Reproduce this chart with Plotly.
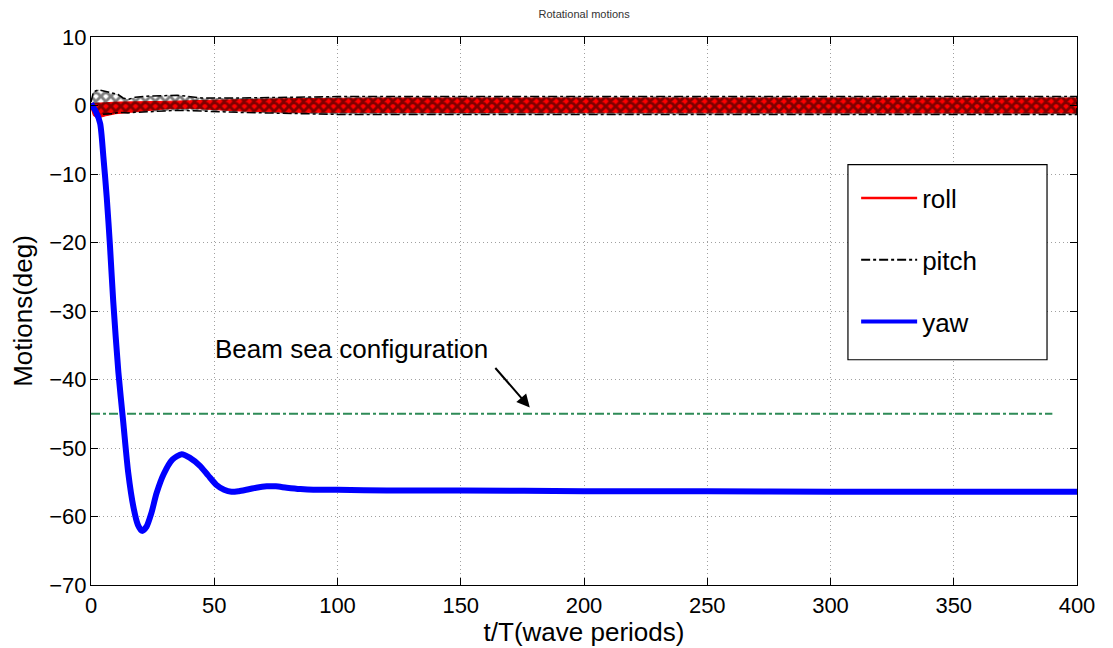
import plotly.graph_objects as go

# ---- data ----
yaw_t = [0, 0.3, 2.0, 3.7, 5.0, 6.4, 7.7, 9.0, 11.1, 13.1, 15.1, 17.2, 19.0, 20.7,
         22.5, 24.5, 26.6, 29.5, 33.0, 36.8, 40.0, 44.2, 47.5, 50.9, 54.0, 57.0,
         60.0, 63.0, 67.0, 71.3, 75.0, 79.4, 85.0, 90.2, 100.0, 120.0, 150.0,
         200.0, 250.0, 300.0, 350.0, 400.0]
yaw_deg = [0.3, 0.1, -0.9, -2.6, -7.4, -13.5, -20.5, -28.5, -38.9, -46.3, -53.6, -58.6,
           -61.2, -62.1, -61.5, -59.5, -56.6, -53.8, -51.7, -50.9, -51.4, -52.6, -54.0,
           -55.4, -56.1, -56.4, -56.3, -56.1, -55.8, -55.6, -55.6, -55.8, -56.0, -56.1,
           -56.1, -56.2, -56.2, -56.3, -56.3, -56.4, -56.4, -56.4]

# oscillation envelopes (upper / lower) of roll and pitch
roll_t = [0, 1, 3, 6, 10, 14, 20, 30, 40, 50, 60, 80, 120, 200, 300, 400]
roll_up = [0.3, 0.3, 0.3, 0.4, 0.5, 0.5, 0.6, 0.6, 0.7, 0.8, 0.9, 1.0, 1.1, 1.1, 1.1, 1.1]
roll_lo = [-0.3, -1.5, -1.8, -1.5, -1.2, -1.1, -0.9, -0.5, -0.4, -0.6, -0.8, -1.0, -1.1, -1.1, -1.1, -1.1]

pitch_t = [0, 1, 3, 6, 9, 11, 13, 15, 18, 22, 30, 35, 45, 60, 100, 200, 300, 400]
pitch_up = [0.5, 2.0, 2.3, 2.1, 1.8, 1.6, 1.1, 0.9, 1.2, 1.35, 1.4, 1.5, 1.1, 1.1, 1.3, 1.3, 1.3, 1.3]
pitch_lo = [-0.3, -0.8, -1.3, -1.3, -1.2, -1.0, -1.1, -1.1, -1.0, -0.9, -0.8, -0.7, -0.8, -1.0, -1.3, -1.3, -1.3, -1.3]

beam_t = [0, 390]
beam_deg = [-45, -45]

x_ticks = [0, 50, 100, 150, 200, 250, 300, 350, 400]
y_ticks = [10, 0, -10, -20, -30, -40, -50, -60, -70]

FONT = "Liberation Sans, Arial, Helvetica, sans-serif"

fig = go.Figure()

# roll band
fig.add_trace(go.Scatter(
    x=roll_t + roll_t[::-1], y=roll_up + roll_lo[::-1],
    fill="toself", fillcolor="rgb(255,0,0)", line=dict(color="rgb(255,0,0)", width=1),
    mode="lines", showlegend=False, hoverinfo="skip"))
# pitch band (dotted black texture)
fig.add_trace(go.Scatter(
    x=pitch_t + pitch_t[::-1], y=pitch_up + pitch_lo[::-1],
    fill="toself", fillcolor="rgba(0,0,0,0)",
    fillpattern=dict(shape="x", fgcolor="black", bgcolor="rgba(0,0,0,0)", size=7, solidity=0.65),
    line=dict(color="black", width=1.5, dash="dashdot"),
    mode="lines", showlegend=False, hoverinfo="skip"))
# beam sea line
fig.add_trace(go.Scatter(
    x=beam_t, y=beam_deg, mode="lines",
    line=dict(color="#2e8b57", width=2, dash="dashdot"),
    showlegend=False, hoverinfo="skip"))
# yaw
fig.add_trace(go.Scatter(
    x=yaw_t, y=yaw_deg, mode="lines", line=dict(color="rgb(0,0,255)", width=6,
                                                   shape="spline", smoothing=0.7),
    showlegend=False))

# legend entries
fig.add_trace(go.Scatter(x=[None], y=[None], mode="lines", name="roll",
                         line=dict(color="red", width=2.5), legendgroup="a"))
fig.add_trace(go.Scatter(x=[None], y=[None], mode="lines", name="pitch",
                         line=dict(color="black", width=2, dash="dashdot"), legendgroup="b"))
fig.add_trace(go.Scatter(x=[None], y=[None], mode="lines", name="yaw",
                         line=dict(color="blue", width=4), legendgroup="c"))

axis_common = dict(
    showline=True, linecolor="black", linewidth=1.2, mirror="allticks",
    ticks="inside", ticklen=7, tickcolor="black", tickwidth=1,
    showgrid=True, gridcolor="#a0a0a0", griddash="1px,3px", gridwidth=1,
    zeroline=False, tickfont=dict(family=FONT, size=22, color="black"),
)

fig.update_layout(
    width=1113, height=648,
    margin=dict(l=91, r=36, t=37, b=61),
    paper_bgcolor="white", plot_bgcolor="white",
    title=dict(text="Rotational motions", x=0.5248, xanchor="center", y=0.978, yanchor="middle",
               font=dict(family=FONT, size=11, color="#333333")),
    xaxis=dict(range=[0, 400], tickvals=x_ticks, **axis_common,
               title=dict(text="t/T(wave periods)", standoff=0,
                          font=dict(family=FONT, size=26, color="black"))),
    yaxis=dict(range=[-70, 10], tickvals=y_ticks, **axis_common,
               ticklabelstandoff=-1,
               title=dict(text="Motions(deg)", standoff=9,
                          font=dict(family=FONT, size=26, color="black"))),
    legend=dict(x=0.776, y=0.749, xanchor="left", yanchor="top",
                bgcolor="rgba(0,0,0,0)", borderwidth=0,
                font=dict(family=FONT, size=26, color="black"),
                itemwidth=56, tracegroupgap=25),
    shapes=[dict(type="rect", xref="paper", yref="paper",
                 x0=0.7677, x1=0.9696, y0=0.411, y1=0.767,
                 line=dict(color="black", width=1.2), fillcolor="white", layer="above")],
    annotations=[
        dict(text="Beam sea configuration", x=161.8, y=-35.6, xref="x", yref="y",
             xanchor="right", yanchor="middle", showarrow=False,
             font=dict(family=FONT, size=26, color="black")),
        dict(text="", x=178, y=-44.1, xref="x", yref="y", axref="x", ayref="y",
             ax=163.5, ay=-38.1, showarrow=True, arrowhead=2, arrowsize=1.3,
             arrowwidth=2, arrowcolor="black"),
    ],
)

fig.write_html("out.html")
